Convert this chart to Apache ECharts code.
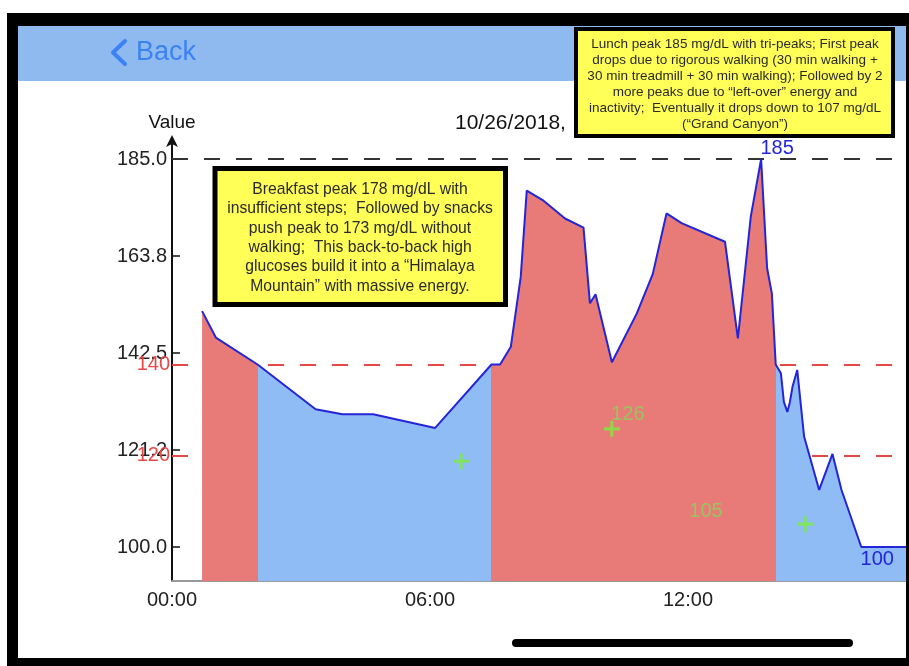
<!DOCTYPE html>
<html>
<head>
<meta charset="utf-8">
<script src="https://cdn.jsdelivr.net/npm/echarts@6/dist/echarts.min.js"></script>
<style>
html, body { margin: 0; padding: 0; background: #fff; overflow: hidden; width: 909px; height: 666px; }
/* the plot runs off the right edge of the phone screen, so the canvas is wider than the window */
#chart { width: 960px; height: 666px; }
</style>
</head>
<body>
<div id="chart"></div>
<script>
// glucose trace: hour of day -> mg/dL
const hours = [0.70, 1.02, 1.99, 3.34, 3.96, 4.68, 6.12, 7.43, 7.63, 7.88, 8.11, 8.25, 8.64, 9.14, 9.57,
  9.72, 9.85, 10.23, 10.81, 11.18, 11.50, 11.85, 12.86, 13.16, 13.46, 13.70, 13.84, 13.95, 14.04,
  14.16, 14.23, 14.31, 14.37, 14.43, 14.54, 14.70, 15.05, 15.36, 15.57, 16.03, 17.5];
const glucose = [151.7, 145.9, 140, 130.2, 129.1, 129.1, 126.1, 140, 140, 143.9, 159.2, 178.1, 175.9, 172.0, 170.0,
  153.4, 155.4, 140.5, 151.2, 159.8, 173.1, 171.0, 166.9, 145.7, 172.4, 185.0, 161.1, 155.6, 140,
  138.1, 131.8, 129.6, 131.8, 135.1, 138.8, 124.2, 112.5, 120.4, 112.5, 100, 100];

// green markers
const markerHours = [6.72, 10.23, 14.72];
const markerValues = [118.8, 125.9, 105.0];
const markerLabels = ['', '126', '105'];

const highLimit = 140;
const lowLimit = 120;
const topLine = 185;

const yTickValues = [100, 121.25, 142.5, 163.75, 185];
const yTickLabels = ['100.0', '121.2', '142.5', '163.8', '185.0'];
const xTickHours = [0, 6, 12];
const xTickLabels = ['00:00', '06:00', '12:00'];

const dateTitle = '10/26/2018,';
const breakfastNote = [
  'Breakfast peak 178 mg/dL with',
  'insufficient steps;  Followed by snacks',
  'push peak to 173 mg/dL without',
  'walking;  This back-to-back high',
  'glucoses build it into a \u201cHimalaya',
  'Mountain\u201d with massive energy.'
];
const lunchNote = [
  'Lunch peak 185 mg/dL with tri-peaks; First peak',
  'drops due to rigorous walking (30 min walking +',
  '30 min treadmill + 30 min walking); Followed by 2',
  'more peaks due to \u201cleft-over\u201d energy and',
  'inactivity;  Eventually it drops down to 107 mg/dL',
  '(\u201cGrand Canyon\u201d)'
];

const RED = '#e87b77';
const BLUE = '#8fbcf5';
const LINE = '#2424d8';
const GREEN = '#7cec3c';

// split the x range wherever the trace crosses the high limit
function bandPieces() {
  const cuts = [];
  for (let i = 1; i < hours.length; i++) {
    const a = glucose[i - 1] >= highLimit;
    const b = glucose[i] >= highLimit;
    if (a !== b) {
      const t = (highLimit - glucose[i - 1]) / (glucose[i] - glucose[i - 1]);
      cuts.push(hours[i - 1] + t * (hours[i] - hours[i - 1]));
    }
  }
  let above = glucose[0] >= highLimit;
  let prev = null;
  const pieces = [];
  cuts.forEach(c => {
    const p = { lt: c, color: above ? RED : BLUE };
    if (prev !== null) p.gte = prev;
    pieces.push(p);
    prev = c;
    above = !above;
  });
  pieces.push({ gte: prev, color: above ? RED : BLUE });
  return pieces;
}

const points = hours.map((h, i) => [h, glucose[i]]);
const markers = markerHours.map((h, i) => ({
  value: [h, markerValues[i]],
  label: {
    show: markerLabels[i] !== '',
    formatter: markerLabels[i],
    offset: i === 2 ? [-99, 10] : [16, 9]
  }
}));

const plusPath = 'path://M4,0H6V4H10V6H6V10H4V6H0V4H4Z';

const chart = echarts.init(document.getElementById('chart'));

chart.setOption({
  animation: false,
  textStyle: { fontFamily: 'Liberation Sans' },
  grid: { left: 172, right: 35.5, top: 140, bottom: 85 },
  xAxis: {
    type: 'value',
    min: 0,
    max: 17.5,
    interval: 6,
    axisLine: { onZero: false, lineStyle: { color: '#9a9a9a', width: 2 } },
    axisTick: { show: false },
    splitLine: { show: false },
    axisLabel: {
      fontSize: 20,
      color: '#222',
      margin: 9,
      formatter: v => xTickLabels[xTickHours.indexOf(v)] || ''
    }
  },
  yAxis: {
    type: 'value',
    min: 92.55,
    max: 189.2,
    name: 'Value',
    nameLocation: 'end',
    nameGap: 8,
    nameTextStyle: { fontSize: 19, color: '#111' },
    axisLine: {
      show: true,
      symbol: ['none', 'arrow'],
      symbolSize: [9, 12],
      symbolOffset: [0, 5],
      lineStyle: { color: '#111', width: 2 }
    },
    axisTick: {
      show: true,
      inside: true,
      length: 8,
      customValues: yTickValues,
      lineStyle: { color: '#111', width: 1.5 }
    },
    splitLine: { show: false },
    axisLabel: {
      fontSize: 20,
      color: '#222',
      margin: 5,
      customValues: yTickValues,
      formatter: v => yTickLabels[yTickValues.indexOf(v)] || ''
    }
  },
  visualMap: {
    type: 'piecewise',
    show: false,
    dimension: 0,
    seriesIndex: 0,
    pieces: bandPieces()
  },
  series: [
    {
      type: 'line',
      data: points,
      z: 10,
      symbol: 'none',
      silent: true,
      lineStyle: { width: 0 },
      areaStyle: { opacity: 1 }
    },
    {
      type: 'line',
      data: points,
      z: 11,
      symbol: 'none',
      silent: true,
      lineStyle: { color: LINE, width: 2 },
      itemStyle: { color: LINE },
      markLine: {
        z: 5,
        silent: true,
        symbol: 'none',
        data: [
          { yAxis: topLine, lineStyle: { color: '#333', type: [16, 16], width: 2 }, label: { show: false } },
          {
            yAxis: highLimit,
            lineStyle: { color: '#e64848', type: [16, 16], width: 2 },
            label: { show: true, position: 'start', distance: 2, formatter: String(highLimit), color: '#e64848', fontSize: 20 }
          },
          {
            yAxis: lowLimit,
            lineStyle: { color: '#e64848', type: [16, 16], width: 2 },
            label: { show: true, position: 'start', distance: 2, formatter: String(lowLimit), color: '#e64848', fontSize: 20 }
          }
        ]
      },
      markPoint: {
        z: 20,
        symbol: 'circle',
        symbolSize: 0,
        silent: true,
        label: { color: LINE, fontSize: 20, formatter: p => String(Math.round(p.value)) },
        data: [
          { type: 'max', label: { position: 'top', offset: [16, 4] } },
          { type: 'min', label: { position: 'bottom', offset: [16, -3] } }
        ]
      }
    },
    {
      type: 'scatter',
      data: markers,
      z: 12,
      symbol: plusPath,
      symbolSize: 16,
      silent: true,
      itemStyle: { color: GREEN },
      label: { position: 'top', color: '#86d65a', fontSize: 20 }
    }
  ],
  graphic: [
    // nav bar
    { type: 'rect', z: 1, shape: { x: 18, y: 26, width: 888, height: 55 }, style: { fill: '#8fbaef' } },
    {
      type: 'polyline', z: 2,
      shape: { points: [[125, 41], [113, 52.5], [125, 64]] },
      style: { stroke: '#3b82f2', lineWidth: 4, fill: null, lineCap: 'round', lineJoin: 'round' }
    },
    {
      type: 'text', z: 2,
      style: { text: 'Back', x: 136, y: 53, font: '27px "Liberation Sans"', fill: '#3b82f2',
        verticalAlign: 'middle', textVerticalAlign: 'middle' }
    },
    {
      type: 'text', z: 2,
      style: { text: dateTitle, x: 455, y: 123, font: '21px "Liberation Sans"', fill: '#111',
        verticalAlign: 'middle', textVerticalAlign: 'middle' }
    },
    // annotation boxes
    {
      type: 'rect', z: 100,
      shape: { x: 215, y: 168.5, width: 290.5, height: 136 },
      style: { fill: '#ffff58', stroke: '#000', lineWidth: 5 }
    },
    {
      type: 'text', z: 101,
      style: { text: breakfastNote.join('\n'), x: 360, y: 238, font: '15.7px "Liberation Sans"', lineHeight: 19.3,
        fill: '#2a2a2a', align: 'center', verticalAlign: 'middle', textAlign: 'center', textVerticalAlign: 'middle' }
    },
    {
      type: 'rect', z: 100,
      shape: { x: 576, y: 29, width: 317, height: 107 },
      style: { fill: '#ffff58', stroke: '#000', lineWidth: 4 }
    },
    {
      type: 'text', z: 101,
      style: { text: lunchNote.join('\n'), x: 735, y: 84, font: '13.5px "Liberation Sans"', lineHeight: 16,
        fill: '#2a2a2a', align: 'center', verticalAlign: 'middle', textAlign: 'center', textVerticalAlign: 'middle' }
    },
    // phone frame
    { type: 'rect', z: 200, shape: { x: 7, y: 13, width: 902, height: 13 }, style: { fill: '#000' } },
    { type: 'rect', z: 200, shape: { x: 7, y: 13, width: 11, height: 653 }, style: { fill: '#000' } },
    { type: 'rect', z: 200, shape: { x: 7, y: 658, width: 902, height: 8 }, style: { fill: '#000' } },
    { type: 'rect', z: 200, shape: { x: 906, y: 13, width: 3, height: 653 }, style: { fill: '#000' } },
    { type: 'rect', z: 200, shape: { x: 512, y: 639, width: 341, height: 8, r: 4 }, style: { fill: '#000' } }
  ]
});
</script>
</body>
</html>
